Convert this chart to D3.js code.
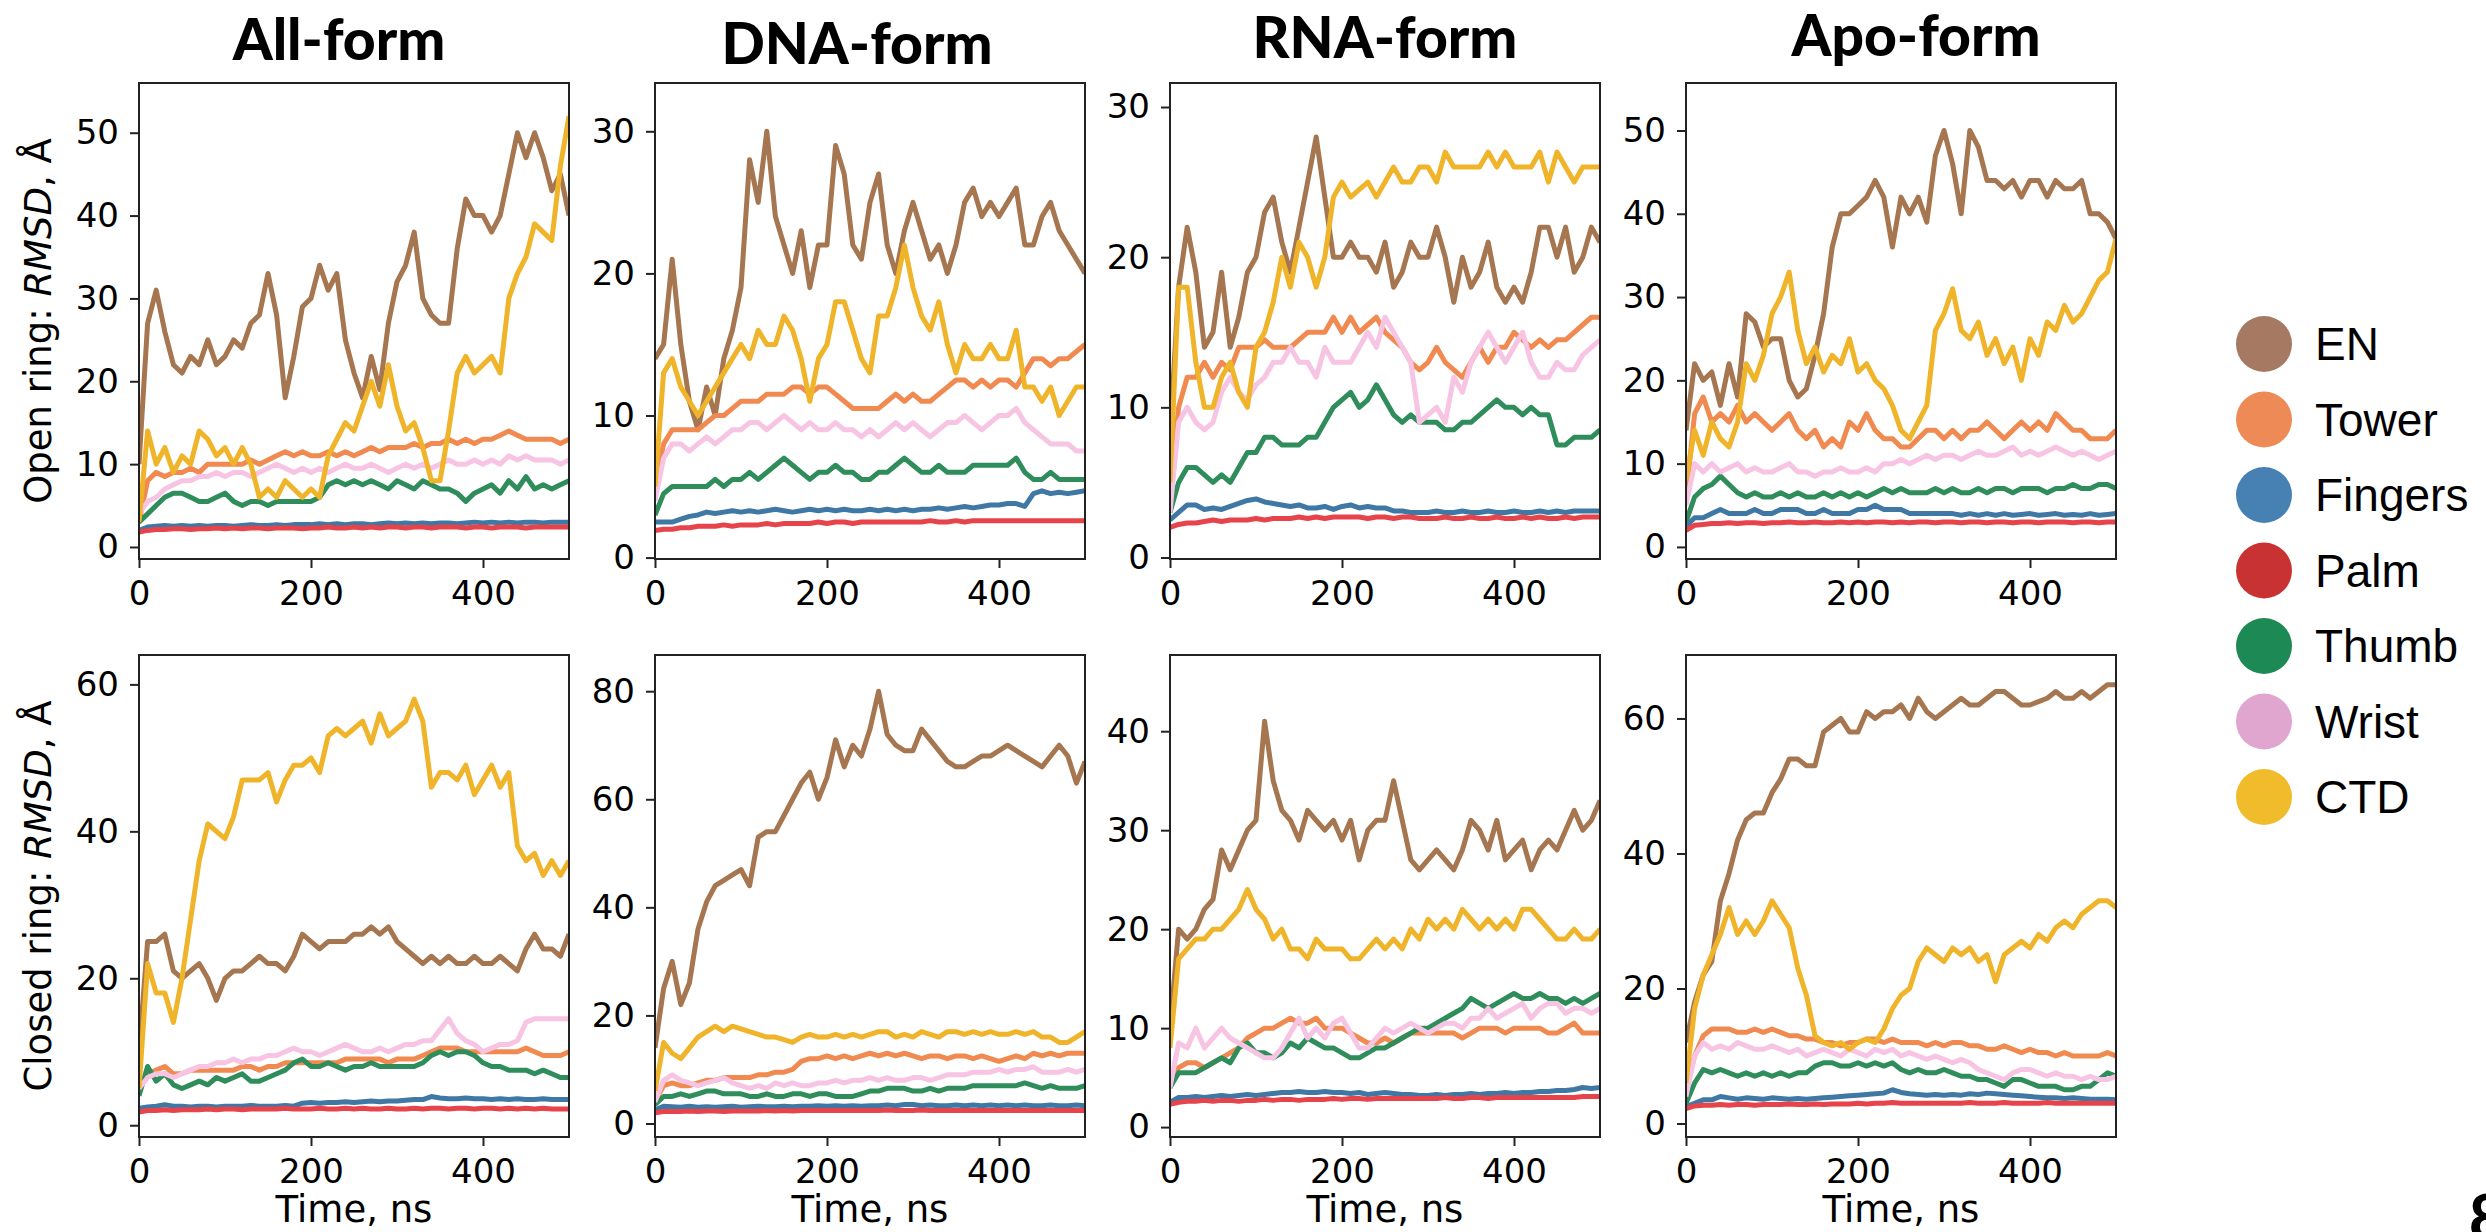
<!DOCTYPE html>
<html>
<head>
<meta charset="utf-8">
<script src="https://cdn.jsdelivr.net/npm/d3@7"></script>
<style>
  body { margin: 0; background: #fff; }
  text { font-family: "DejaVu Sans", sans-serif; fill: #000; }
</style>
</head>
<body>
<script>
// time axis, ns
const time = [0,10,20,30,40,50,60,70,80,90,100,110,120,130,140,150,160,170,180,190,200,
  210,220,230,240,250,260,270,280,290,300,310,320,330,340,350,360,370,380,390,400,
  410,420,430,440,450,460,470,480,490,500];

const domains = ["EN", "Tower", "Fingers", "Palm", "Thumb", "Wrist", "CTD"];
const forms = ["All-form", "DNA-form", "RNA-form", "Apo-form"];
const rings = ["Open ring: ", "Closed ring: "];
const xTicks = [0, 200, 400];

// open ring RMSD, Å
const allOpen = {
  EN: [10,27,31,26,22,21,23,22,25,22, 23,25,24,27,28,33,28,18,23,29, 30,34,31,33,25,21,18,23,19,27, 32,34,38,30,28,27,27,36,42,40, 40,38,40,45,50,47,50,47,43,45,40],
  Tower: [3,8,9,8.5,9,9,9.5,9,10,10, 10,10,10,10.5,10,10.5,11,11.5,11,11.5, 11,11,11.5,11,11.5,11,11.5,12,11.5,12, 12,12,12.5,12,12.5,12.5,13,12.5,13,12.5, 13,13,13.5,14,13.5,13,13,13,13,12.5,13],
  Fingers: [2,2.4,2.5,2.6,2.5,2.6,2.5,2.6,2.5,2.6, 2.6,2.5,2.6,2.7,2.6,2.6,2.7,2.6,2.7,2.7, 2.7,2.8,2.7,2.8,2.7,2.8,2.8,2.7,2.8,2.9, 2.8,2.9,2.8,2.9,2.8,2.9,2.9,2.8,2.9,3, 2.9,3,2.9,3,2.9,3,3,2.9,3,3,3],
  Palm: [1.8,2,2.1,2.1,2.2,2.2,2.1,2.2,2.2,2.3, 2.2,2.3,2.2,2.3,2.3,2.2,2.3,2.3,2.3,2.2, 2.3,2.3,2.4,2.3,2.3,2.4,2.3,2.4,2.3,2.4, 2.4,2.3,2.4,2.4,2.3,2.4,2.4,2.4,2.3,2.4, 2.4,2.3,2.4,2.4,2.4,2.3,2.4,2.4,2.4,2.4,2.4],
  Thumb: [3,4,5,6,6.5,6.5,6,5.5,5.5,6, 6.5,5.5,5,5.5,5.5,5,5.5,5.5,5.5,5.5, 5.5,6,7.5,8,7.5,8,7.5,8,7.5,7, 8,7.5,7,8,7.5,7,7,6.5,5.5,6.5, 7,7.5,6.5,8,7,8.5,7,7.5,7,7.5,8],
  Wrist: [4,5.5,6,7,7.5,8,8,8.5,8.5,9, 8.5,9,9,8.5,9,9.5,10,9.5,9,9.5, 9,9.5,9,9.5,10,9.5,9.5,10,9.5,9, 9.5,10,9.5,10,9.5,10,10.5,10,10,10.5, 10,10.5,10,11,10.5,11,10.5,10.5,10.5,10,10.5],
  CTD: [3,14,10,12,9,11,10,14,13,11, 12,10,12,10,6,7,6,8,7,6, 7,6,11,13,15,14,17,20,17,22, 17,14,15,12,8,8,14,21,23,21, 22,23,21,30,33,35,39,38,37,46,52]
};
const dnaOpen = {
  EN: [14,15,21,15,11,9,12,10,14,16, 19,28,25,30,24,22,20,23,19,22, 22,29,27,22,21,25,27,22,20,23, 25,23,21,22,20,22,25,26,24,25, 24,25,26,22,22,24,25,23,22,21,20],
  Tower: [5,8,9,9,9,9,9.5,10,10,10.5, 11,11,11,11.5,11.5,11.5,12,12,11.5,12, 12,11.5,11,10.5,10.5,10.5,10.5,11,11.5,11, 11.5,11,11,11.5,12,12.5,12.5,12,12.5,12, 12.5,12.5,12,13,14,14,13.5,14,14,14.5,15],
  Fingers: [2.5,2.5,2.5,2.7,2.9,3,3.2,3.1,3.2,3.3, 3.2,3.3,3.2,3.3,3.4,3.3,3.2,3.3,3.4,3.3, 3.4,3.3,3.4,3.3,3.3,3.4,3.3,3.4,3.3,3.4, 3.3,3.4,3.4,3.5,3.4,3.5,3.6,3.5,3.6,3.7, 3.7,3.8,3.8,3.6,4.5,4.7,4.5,4.6,4.5,4.6,4.7],
  Palm: [1.9,2,2,2.1,2.1,2.2,2.2,2.2,2.3,2.2, 2.3,2.3,2.3,2.4,2.3,2.4,2.4,2.4,2.4,2.5, 2.4,2.5,2.5,2.4,2.5,2.5,2.5,2.5,2.5,2.5, 2.5,2.5,2.6,2.5,2.5,2.6,2.5,2.6,2.6,2.6, 2.6,2.6,2.6,2.6,2.6,2.6,2.6,2.6,2.6,2.6,2.6],
  Thumb: [3,4.5,5,5,5,5,5,5.5,5,5.5, 5.5,6,5.5,6,6.5,7,6.5,6,5.5,6, 6,6.5,6,6,5.5,5.5,6,6,6.5,7, 6.5,6,6,6.5,6,6,6,6.5,6.5,6.5, 6.5,6.5,7,6,5.5,5.5,6,5.5,5.5,5.5,5.5],
  Wrist: [4,7,8,8,7.5,8,8.5,8,8.5,9, 9,9.5,9.5,9,9.5,10,9.5,9,9.5,9, 9,9.5,9,9,8.5,9,8.5,9,9.5,9, 9.5,9,8.5,9,9.5,9.5,10,9.5,9,9.5, 10,10,10.5,9.5,9,8.5,8,8,8,7.5,7.5],
  CTD: [5,13,14,12,11,10,11,12,13,14, 15,14,16,15,15,17,16,14,11,14, 15,18,18,16,14,13,17,17,19,22, 19,17,16,18,15,13,15,14,14,15, 14,14,16,12,12,11,12,10,11,12,12]
};
const rnaOpen = {
  EN: [8,18,22,19,14,15,19,14,16,19, 20,23,24,21,19,22,25,28,24,20, 20,21,20,20,19,21,18,19,21,20, 20,22,20,17,20,18,19,21,18,17, 18,17,19,22,22,20,22,19,20,22,21],
  Tower: [4,10,12,12,13,12,13,12.5,14,14, 14,14.5,14,14,14,14.5,15,15,15,16, 15,16,15,15.5,16,15,14.5,14,13,12.5, 13,14,13,12.5,12,13,14,13,14,14, 15,14.5,14,14.5,14,14.5,14.5,15,15.5,16,16],
  Fingers: [2.5,3,3.5,3.5,3.2,3.3,3.2,3.4,3.6,3.8, 3.9,3.7,3.6,3.5,3.4,3.5,3.3,3.3,3.4,3.2, 3.4,3.5,3.3,3.4,3.3,3.3,3.1,3.1,3,3, 3,3.1,3,3,3.1,3,3,3.1,3,3, 3.1,3,3,3.1,3,3.1,3,3.1,3.1,3.1,3.1],
  Palm: [2,2.2,2.3,2.3,2.4,2.5,2.4,2.5,2.5,2.5, 2.6,2.5,2.6,2.6,2.6,2.7,2.6,2.7,2.6,2.7, 2.7,2.7,2.7,2.6,2.7,2.7,2.6,2.7,2.7,2.6, 2.6,2.6,2.7,2.6,2.6,2.7,2.6,2.6,2.7,2.6, 2.6,2.7,2.6,2.7,2.6,2.6,2.7,2.6,2.7,2.7,2.7],
  Thumb: [3,5,6,6,5.5,5,5.5,5,6,7, 7,8,8,7.5,7.5,7.5,8,8,9,10, 10.5,11,10,10.5,11.5,10.5,9.5,9,9.5,9, 9,9,8.5,8.5,9,9,9.5,10,10.5,10, 10,9.5,10,9.5,9.5,7.5,7.5,8,8,8,8.5],
  Wrist: [3,9,10,9,8.5,9,11,12,11,10.5, 11.5,12,13,13,14,13,13,12,14,13, 13,13,14,15,14,16,15,14,13,9, 9.5,10,9,12,11,13,14,15,14,13, 14,15,13,12,12,13,12.5,12.5,13.5,14,14.5],
  CTD: [5,18,18,13,10,10,12,13,11,10, 14,15,17,20,18,21,20,18,20,24, 25,24,24.5,25,24,25,26,25,25,26, 26,25,27,26,26,26,26,27,26,27, 26,26,26,27,25,27,26,25,26,26,26]
};
const apoOpen = {
  EN: [14,22,20,21,17,22,18,28,27,24, 25,25,20,18,19,23,28,36,40,40, 41,42,44,42,36,42,40,42,39,47, 50,46,40,50,48,44,44,43,44,42, 44,44,42,44,43,43,44,40,40,39,37],
  Tower: [6,16,18,15,16,15,17,15,16,15, 14,15,16,14,13,14,12,13,12,15, 14,16,14,13,13,12,12,13,14,14, 13,14,13,14,14,15,14,13,14,15, 14,15,14,16,15,14,14,13,13,13,14],
  Fingers: [2.5,3.5,3.5,4,4.5,4,4,4,4.5,4, 4,4.5,4.5,4.5,4,4,4.5,4,4,4, 4.5,4.5,5,4.5,4.5,4.5,4,4,4,4, 4,4,3.8,4,3.8,4,3.8,4,3.8,3.9, 4,3.8,3.9,4,3.8,3.9,3.8,4,3.8,3.9,4],
  Palm: [2,2.6,2.7,2.8,2.8,2.9,2.8,2.9,2.9,2.8, 2.9,2.9,3,2.9,2.9,3,2.9,2.9,3,2.9, 3,2.9,3,3,2.9,3,2.9,3,3,2.9, 3,3,2.9,3,3,2.9,3,3,2.9,3, 3,2.9,3,3,3,2.9,3,3,2.9,3,3],
  Thumb: [3,6,7,7.5,8.5,7.5,6.5,6,6.5,6, 6,6.5,6,6.5,6,6,6.5,6,6.5,6, 6.5,6,6.5,7,6.5,7,6.5,6.5,6.5,7, 6.5,7,6.5,6.5,7,6.5,7,7,6.5,7, 7,7,6.5,7,7,7.5,7,7,7.5,7.5,7],
  Wrist: [5,10,9,10,9,9.5,10,9,9.5,9, 9,9.5,10,9,9,8.5,9,9,9.5,9, 9,9.5,9,10,10,10.5,10,10.5,11,10.5, 11,11,10.5,11,11.5,11,11,11.5,12,11, 11.5,11,11.5,12,11.5,11,11.5,11,10.5,11,11.5],
  CTD: [8,14,11,15,13,12,15,22,20,23, 28,30,33,26,22,24,21,23,22,25, 21,22,20,19,17,14,13,15,17,26, 28,31,26,25,27,23,25,22,24,20, 25,23,27,26,29,27,28,30,32,33,37]
};

// closed ring RMSD, Å
const allClosed = {
  EN: [10,25,25,26,21,20,21,22,20,17, 20,21,21,22,23,22,22,21,23,26, 25,24,25,25,25,26,26,27,26,27, 25,24,23,22,23,22,23,22,22,23, 22,22,23,22,21,24,26,24,24,23,26],
  Tower: [5,7,7.5,8,7,7,7.5,7.5,7.5,7.5, 7.5,7.5,8,8,7.5,8,8,8.5,8.5,8.5, 8.5,8.5,8.5,8.5,9,9,9,9,9,8.5, 9,9,9,9.5,10,10.5,10.5,10.5,10,10, 10,10,10,10,10,10.5,10,9.5,9.5,9.5,10],
  Fingers: [2.3,2.5,2.6,2.8,2.6,2.6,2.5,2.6,2.6,2.5, 2.6,2.6,2.6,2.7,2.6,2.6,2.6,2.7,2.6,3, 3.1,3,3.1,3.1,3.2,3.1,3.2,3.3,3.2,3.3, 3.3,3.4,3.5,3.5,3.9,3.7,3.6,3.6,3.7,3.6, 3.6,3.5,3.6,3.5,3.6,3.5,3.5,3.6,3.5,3.5,3.5],
  Palm: [1.8,2,2,2.1,2,2.1,2.1,2.1,2.2,2.1, 2.2,2.2,2.1,2.2,2.2,2.2,2.2,2.3,2.2,2.2, 2.2,2.3,2.2,2.2,2.3,2.2,2.3,2.2,2.2,2.3, 2.2,2.2,2.3,2.2,2.3,2.3,2.2,2.3,2.3,2.2, 2.3,2.3,2.2,2.3,2.2,2.3,2.2,2.3,2.2,2.2,2.2],
  Thumb: [4,8,6,7,5.5,5,5.5,6,5.5,6.5, 6,6.5,7,6,6,6.5,7,7.5,8.5,9, 8,8,8.5,8,7.5,8,8,8.5,8,8, 8,8,8,8.5,9.5,10,9.5,10,10,9.5, 8.5,8,8,7.5,7.5,7.5,7,7.5,7,6.5,6.5],
  Wrist: [5,6.5,7,7,6.5,7,7.5,8,8,8.5, 8.5,9,8.5,9,9,9.5,9.5,10,10.5,10, 10,9.5,10,10.5,11,10.5,10,10,10.5,10, 10.5,11,11,11.5,11.5,13,14.5,12.5,11.5,11, 10,10.5,11,11,11.5,14,14.5,14.5,14.5,14.5,14.5],
  CTD: [5,22,18,18,14,20,28,36,41,40, 39,42,47,47,47,48,44,47,49,49, 50,48,53,54,53,54,55,52,56,53, 54,55,58,55,46,48,48,47,49,45, 47,49,46,48,38,36,37,34,36,34,36]
};
const dnaClosed = {
  EN: [14,25,30,22,26,36,41,44,45,46, 47,44,53,54,54,57,60,63,65,60, 64,71,66,70,68,73,80,72,70,69, 69,73,71,69,67,66,66,67,68,68, 69,70,69,68,67,66,68,70,68,63,67],
  Tower: [4,7,7.5,7,7,7.5,8,8,8.5,8.5, 8.5,8.5,9,9,9.5,9.5,10,11.5,12,12, 12.5,12,12.5,12,12.5,13,12.5,13,12.5,13, 12.5,12,12.5,12.5,12,12.5,12.5,12,12.5,12, 11.5,12,12.5,12,13,12.5,13,12.5,13,13,13],
  Fingers: [2.5,3.2,3.1,3,3.2,3,3.1,3,3.1,3.2, 3,3.1,3.2,3.1,3.1,3.2,3.1,3.2,3.2,3.3, 3.2,3.3,3.2,3.3,3.2,3.3,3.3,3.4,3.3,3.5, 3.5,3.3,3.4,3.3,3.3,3.4,3.3,3.4,3.3,3.4, 3.3,3.4,3.3,3.4,3.3,3.3,3.4,3.3,3.3,3.4,3.3],
  Palm: [2,2.2,2.2,2.2,2.3,2.2,2.3,2.3,2.2,2.3, 2.3,2.3,2.3,2.4,2.3,2.4,2.3,2.4,2.4,2.4, 2.4,2.4,2.4,2.4,2.4,2.4,2.4,2.5,2.4,2.4, 2.4,2.5,2.4,2.4,2.4,2.4,2.4,2.4,2.4,2.4, 2.4,2.4,2.4,2.4,2.4,2.4,2.4,2.4,2.4,2.4,2.4],
  Thumb: [3.5,5,5,5.5,5,5.5,6,6,5.5,5.5, 5.5,5,5,5.5,5,5,5.5,5.5,5,5.5, 5.5,5,5,5,5.5,6,6,6.5,6.5,6.5, 6,6,6.5,6,6.5,6.5,6.5,7,7,7, 7,7,7,7.5,7,6.5,7,6.5,6.5,6.5,7],
  Wrist: [4,8,9,8,7.5,7,7.5,8,8.5,7.5, 7,6.5,7,6.5,7.5,7,7.5,7,7,7.5, 7.5,8,7.5,8,8,8.5,8,8.5,8,8, 8.5,8.5,8,8.5,9,9,9,9.5,9.5,9.5, 10,9.5,10,10,10.5,9.5,9.5,9.5,10,9.5,10],
  CTD: [6,15,13,12,14,16,17,18,17,18, 17.5,17,16.5,16,16,15.5,15,16,16.5,16, 16,16.5,16,16.5,16,16.5,17,17,16,16.5, 16,17,16.5,16,17,17,16.5,17,16.5,17, 16.5,16.5,17,16.5,17,16,16,15,15,16,17]
};
const rnaClosed = {
  EN: [10,20,19,20,22,23,28,26,28,30, 31,41,35,32,31,29,32,31,30,31, 29,31,27,30,31,31,35,31,27,26, 27,28,27,26,28,31,30,28,31,27, 28,29,26,28,29,28,30,32,30,31,33],
  Tower: [4,6,6.5,6.5,6,6.5,7,7.5,8,9, 9.5,10,10,10.5,11,10.5,10.5,11,10,10, 10,9.5,9,8.5,8.5,9,8.5,9,9.5,9.5, 9.5,9.5,9.5,9.5,9,9.5,10,10,10,9.5, 10,10,10,10,9.5,9.5,10,10.5,9.5,9.5,9.5],
  Fingers: [2.5,3,3,3.1,3,3.1,3.2,3.1,3.2,3.3, 3.2,3.3,3.4,3.5,3.5,3.6,3.5,3.5,3.6,3.5, 3.5,3.4,3.5,3.3,3.4,3.5,3.4,3.3,3.3,3.2, 3.2,3.3,3.2,3.3,3.3,3.4,3.3,3.4,3.4,3.5, 3.4,3.5,3.5,3.6,3.6,3.7,3.7,3.8,4,3.9,4],
  Palm: [2.3,2.5,2.6,2.6,2.7,2.6,2.7,2.7,2.6,2.7, 2.7,2.8,2.7,2.8,2.8,2.7,2.8,2.8,2.8,2.9, 2.8,2.9,2.9,2.8,2.9,2.9,2.9,2.9,2.9,2.9, 2.9,2.9,3,2.9,2.9,3,3,2.9,3,3, 3,3,3,3,3,3,3,3,3.1,3.1,3.1],
  Thumb: [4,5.5,5.5,5.5,6,6.5,7,6.5,8,8.5, 7.5,7.5,7,7.5,8.5,8,9,8.5,8,8, 7.5,7,7,7.5,8,8,8.5,9,9.5,10, 10,10.5,11,11.5,12,13,12.5,12,12.5,13, 13.5,13,13,13.5,13,13,12.5,13,12.5,13,13.5],
  Wrist: [4,8.5,8,10,8,9,10,9,8.5,8, 7.5,7,7,8,9.5,11,9,10,9,10.5, 11,9.5,8,8,9,10,9.5,10,10.5,10, 9.5,10,10.5,10.5,10,11,11,12,11,11.5, 12,12.5,11,12,12.5,12.5,11.5,12,12,11.5,12],
  CTD: [8,17,18,19,19,20,20,21,22,24, 22,21,19,20,18,18,17,19,18,18, 18,17,17,18,19,18,19,18,20,19, 21,20,21,20,22,21,20,21,20,21, 20,22,22,21,20,19,19,20,19,19,20]
};
const apoClosed = {
  EN: [12,18,22,24,33,37,42,45,46,46, 49,51,54,54,53,53,58,59,60,58, 58,61,60,61,61,62,60,63,61,60, 61,62,63,62,62,63,64,64,63,62, 62,62.5,63,64,63,63,64,63,64,65,65],
  Tower: [5,10,13,14,14,14,13.5,13.5,14,13.5, 14,13.5,13,13,12.5,12.5,12,12,11.5,12, 12,12.5,12.5,12,12.5,12,12,12,11.5,12, 11.5,12,12,11.5,11.5,11,11,11.5,11,10.5, 11,10.5,10.5,10,10.5,10,10,10,10,10.5,10],
  Fingers: [2.5,3,3.5,3.5,4,3.8,3.6,3.8,3.7,3.6, 3.8,3.7,3.6,3.7,3.6,3.7,3.8,3.9,4,4.1, 4.2,4.3,4.4,4.5,5,4.6,4.4,4.3,4.2,4.3, 4.2,4.3,4.2,4.4,4.3,4.5,4.4,4.3,4.2,4.1, 4,3.9,3.8,3.8,3.7,3.8,3.7,3.6,3.6,3.6,3.5],
  Palm: [2.2,2.6,2.7,2.7,2.8,2.7,2.8,2.8,2.7,2.8, 2.8,2.8,2.9,2.8,2.8,2.9,2.8,2.9,2.9,2.9, 3,2.9,3,3,3.1,3,3,3,3,3, 3,3,3,3.1,3,3,3,3.1,3,3, 3,3,3.1,3,3,3,3,3,3,3,3],
  Thumb: [3,6,8,7.5,8,7.5,7,7.5,7,7.5, 7,7.5,7,7.5,7.5,8.5,9,9,8.5,8.5, 9,8.5,9,8.5,9,8,7.5,8,7.5,7.5, 8,7.5,7,7,6.5,6.5,6,5.5,6.5,6.5, 6,5.5,5.5,5.5,5,5,5.5,5.5,6.5,7.5,7],
  Wrist: [4,10,12,11,11.5,11,12,11.5,11,11, 11.5,11,10.5,11,10,10.5,11,10.5,10,11, 10.5,10,11,10.5,11,10,10.5,10,9.5,10, 9.5,9,9.5,9,8,7.5,7,6.5,7.5,8, 8,7.5,7,7.5,7,7,6.5,7,6.5,6.5,7],
  CTD: [6,17,22,25,28,32,28,30,28,30, 33,31,29,23,19,13,12,11.5,12,11, 12,12.5,12,14,17,19,20,24,26,25, 24,26,25,26,24,25,21,25,26,27, 26,28,27,29,30,29,31,32,33,33,32]
};

const panelData = [[allOpen, dnaOpen, rnaOpen, apoOpen], [allClosed, dnaClosed, rnaClosed, apoClosed]];
const yTicks = [
  [[0,10,20,30,40,50], [0,10,20,30], [0,10,20,30], [0,10,20,30,40,50]],
  [[0,20,40,60], [0,20,40,60,80], [0,10,20,30,40], [0,20,40,60]]
];
const yLimits = [
  [[-1.45, 56], [-0.1, 33.4], [-0.1, 31.6], [-1.45, 55.7]],
  [[-1.6, 64], [-2.5, 86.7], [-1, 47.7], [-2, 69.4]]
];

// styling
const lineColors = ["#a5764f", "#f08a50", "#3f78a5", "#e6434a", "#2e8d5a", "#f7c4e3", "#efb42a"];
const dotColors = ["#a67962", "#ee8a55", "#4781b3", "#c93232", "#1d8a55", "#e1a6cf", "#f0bc2b"];

const colLeft = [139, 655, 1170, 1686];
const panelW = 430;
const rowTop = [83, 655];
const rowH = [476, 482];
const titlePos = [[339, 60], [857, 64], [1385, 58], [1916, 56]];

const svg = d3.select('body')
  .append('svg')
    .attr('width', 2486)
    .attr('height', 1232);

const x = d3.scaleLinear().domain([0, 500]).range([0, panelW]);

panelData.forEach((row, r) => {
  row.forEach((panel, c) => {
    const H = rowH[r];
    const y = d3.scaleLinear().domain(yLimits[r][c]).range([H, 0]);
    const g = svg.append('g').attr('transform', `translate(${colLeft[c]},${rowTop[r]})`);

    const clipId = `clip-${r}-${c}`;
    g.append('clipPath').attr('id', clipId)
      .append('rect').attr('width', panelW).attr('height', H);

    const line = d3.line()
      .x((d, i) => x(time[i]))
      .y(d => y(d));

    g.append('g').attr('clip-path', `url(#${clipId})`)
      .selectAll('path')
      .data(domains)
      .enter()
        .append('path')
          .attr('d', k => line(panel[k]))
          .attr('fill', 'none')
          .attr('stroke', (k, i) => lineColors[i])
          .attr('stroke-width', 5)
          .attr('stroke-linejoin', 'round');

    const yAxis = g.append('g')
      .call(d3.axisLeft(y).tickValues(yTicks[r][c]).tickSize(9).tickPadding(11));
    const xAxis = g.append('g')
      .attr('transform', `translate(0,${H})`)
      .call(d3.axisBottom(x).tickValues(xTicks).tickSize(9).tickPadding(13));
    [yAxis, xAxis].forEach(a => {
      a.select('.domain').remove();
      a.selectAll('line').attr('stroke', '#222').attr('stroke-width', 2);
      a.selectAll('text')
        .attr('font-family', '"DejaVu Sans", sans-serif')
        .attr('font-size', 34)
        .attr('fill', '#111');
    });

    g.append('rect')
      .attr('width', panelW).attr('height', H)
      .attr('fill', 'none').attr('stroke', '#222').attr('stroke-width', 2);

    if (c === 0) {
      const lab = g.append('text')
        .attr('transform', `translate(-88,${H / 2}) rotate(-90)`)
        .attr('text-anchor', 'middle')
        .attr('font-size', 37);
      lab.append('tspan').text(rings[r]);
      lab.append('tspan').attr('font-style', 'italic').text('RMSD');
      lab.append('tspan').text(', Å');
    }
    if (r === 1) {
      g.append('text')
        .attr('x', panelW / 2)
        .attr('y', 1222 - rowTop[r])
        .attr('text-anchor', 'middle')
        .attr('font-size', 37)
        .text('Time, ns');
    }
  });
});

// column titles
svg.selectAll('.title')
  .data(forms)
  .enter()
    .append('text')
      .attr('class', 'title')
      .attr('x', (d, i) => titlePos[i][0])
      .attr('y', (d, i) => titlePos[i][1])
      .attr('text-anchor', 'middle')
      .style('font-family', 'Lato, sans-serif')
      .style('font-weight', 900)
      .style('font-size', '57px')
      .text(d => d);

// legend
const legend = svg.append('g').attr('transform', 'translate(2264,344)');
const items = legend.selectAll('g')
  .data(domains)
  .enter()
    .append('g')
      .attr('transform', (d, i) => `translate(0,${i * 75.5})`);
items.append('circle').attr('r', 28).attr('fill', (d, i) => dotColors[i]);
items.append('text')
  .attr('x', 51)
  .attr('y', 16)
  .style('font-family', '"Liberation Sans", Arial, sans-serif')
  .style('font-size', '46px')
  .text(d => d);

// page number, partly cut off at the bottom as in the source
svg.append('text')
  .attr('x', 2469)
  .attr('y', 1240)
  .style('font-family', 'Lato, sans-serif')
  .style('font-weight', 900)
  .style('font-size', '62px')
  .text('8');
</script>
</body>
</html>
